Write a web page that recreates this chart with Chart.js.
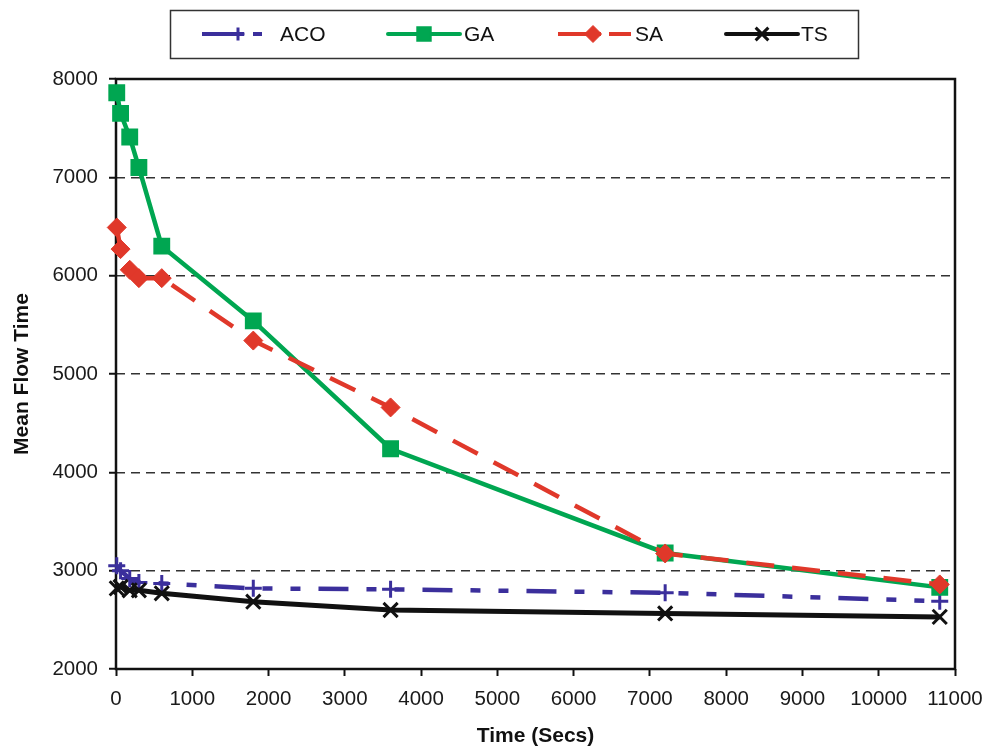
<!DOCTYPE html>
<html lang="en">
  <head>
    <meta charset="utf-8" />
    <title>Mean flow time vs time</title>
    <style>
      * {
        margin: 0;
        padding: 0;
      }
      body {
        background: #fff;
      }
      .chartBox {
        width: 999px;
        height: 747px;
      }
    </style>
  </head>
  <body>
    <div class="chartBox">
      <canvas id="myChart" width="999" height="747"></canvas>
    </div>

    <script src="https://cdn.jsdelivr.net/npm/chart.js@4.4.0/dist/chart.umd.min.js"></script>

    <script>
      // values
      const timeSecs = [10, 60, 180, 300, 600, 1800, 3600, 7200, 10800];
      const acoValues = [3050, 3000, 2920, 2880, 2870, 2820, 2810, 2775, 2690];
      const gaValues = [7860, 7650, 7410, 7100, 6300, 5540, 4240, 3180, 2830];
      const saValues = [6490, 6270, 6060, 5975, 5975, 5340, 4660, 3175, 2860];
      const tsValues = [2820, 2835, 2800, 2800, 2770, 2685, 2600, 2565, 2530];
      const seriesNames = ["ACO", "GA", "SA", "TS"];
      const yTicks = [2000, 3000, 4000, 5000, 6000, 7000, 8000];
      const xTicks = [0, 1000, 2000, 3000, 4000, 5000, 6000, 7000, 8000, 9000, 10000, 11000];

      const FONT = "'Liberation Sans', Arial, Helvetica, sans-serif";
      const toPoints = (vals) => vals.map((v, i) => ({ x: timeSecs[i], y: v }));

      const data = {
        datasets: [
          {
            label: seriesNames[0],
            data: toPoints(acoValues),
            borderColor: "#3b2f9c",
            backgroundColor: "#3b2f9c",
            borderWidth: 4.5,
            borderDash: [30, 18, 10, 18, 10, 18],
            pointStyle: "cross",
            pointRadius: 8.5,
            pointBorderWidth: 3,
            pointBackgroundColor: "#3b2f9c",
            pointBorderColor: "#3b2f9c",
            clip: false,
            order: 3,
          },
          {
            label: seriesNames[1],
            data: toPoints(gaValues),
            borderColor: "#00a651",
            backgroundColor: "#00a651",
            borderWidth: 4.5,
            pointStyle: "rect",
            pointRadius: 10.5,
            pointBorderWidth: 2,
            pointBackgroundColor: "#00a651",
            pointBorderColor: "#00a651",
            clip: false,
            order: 2,
          },
          {
            label: seriesNames[2],
            data: toPoints(saValues),
            borderColor: "#e0382a",
            backgroundColor: "#e0382a",
            borderWidth: 4.5,
            borderDash: [28, 18],
            pointStyle: "rectRot",
            pointRadius: 9.5,
            pointBorderWidth: 1,
            pointBackgroundColor: "#e0382a",
            pointBorderColor: "#e0382a",
            clip: false,
            order: 1,
          },
          {
            label: seriesNames[3],
            data: toPoints(tsValues),
            borderColor: "#111111",
            backgroundColor: "#111111",
            borderWidth: 5,
            pointStyle: "crossRot",
            pointRadius: 10,
            pointBorderWidth: 3,
            pointBackgroundColor: "#111111",
            pointBorderColor: "#111111",
            clip: false,
            order: 0,
          },
        ],
      };

      // legend slots inside the box at the top
      const legendLayout = [
        { x1: 202, x2: 262, mark: 238, textX: 280, dash: [42, 9, 10], cap: "butt" },
        { x1: 388, x2: 460, mark: 424, textX: 464, dash: [], cap: "round" },
        { x1: 558, x2: 631, mark: 593, textX: 635, dash: [43, 8, 30], cap: "butt" },
        { x1: 726, x2: 798, mark: 762, textX: 801, dash: [], cap: "round" },
      ];

      const boxLegend = {
        id: "boxLegend",
        afterDraw(chart) {
          const { ctx, data } = chart;
          const y = 34;
          ctx.save();
          ctx.strokeStyle = "#333";
          ctx.lineWidth = 1.5;
          ctx.strokeRect(170.5, 10.5, 688, 48);

          legendLayout.forEach((item, i) => {
            const ds = data.datasets[i];
            ctx.setLineDash(item.dash);
            ctx.lineCap = item.cap;
            ctx.strokeStyle = ds.borderColor;
            ctx.lineWidth = 4;
            ctx.beginPath();
            ctx.moveTo(item.x1, y);
            ctx.lineTo(item.x2, y);
            ctx.stroke();

            ctx.setLineDash([]);
            ctx.lineCap = "butt";
            ctx.fillStyle = ds.pointBackgroundColor;
            ctx.strokeStyle = ds.pointBorderColor;
            ctx.lineWidth = ds.pointBorderWidth;
            Chart.helpers.drawPoint(
              ctx,
              {
                pointStyle: ds.pointStyle,
                radius: ds.pointStyle === "cross" ? 6.5 : ds.pointRadius - 1,
                borderWidth: ds.pointBorderWidth,
                rotation: 0,
              },
              item.mark,
              y
            );

            ctx.fillStyle = "#111";
            ctx.font = "21px " + FONT;
            ctx.textAlign = "left";
            ctx.textBaseline = "middle";
            ctx.fillText(ds.label, item.textX, y + 1);
          });
          ctx.restore();
        },
      };

      const plotFrame = {
        id: "plotFrame",
        beforeDatasetsDraw(chart) {
          const { ctx, chartArea } = chart;
          ctx.save();
          ctx.strokeStyle = "#111";
          ctx.lineWidth = 2.5;
          ctx.strokeRect(
            chartArea.left,
            chartArea.top,
            chartArea.right - chartArea.left,
            chartArea.bottom - chartArea.top
          );
          ctx.restore();
        },
      };

      const config = {
        type: "line",
        data: data,
        options: {
          responsive: false,
          devicePixelRatio: 1,
          animation: false,
          events: [],
          layout: {
            padding: { top: 79, right: 44, left: 0, bottom: 0 },
          },
          plugins: {
            legend: { display: false },
            tooltip: { enabled: false },
          },
          scales: {
            x: {
              type: "linear",
              min: xTicks[0],
              max: xTicks[xTicks.length - 1],
              afterBuildTicks: (scale) => {
                scale.ticks = xTicks.map((v) => ({ value: v }));
              },
              afterFit: (scale) => {
                scale.height = 78;
              },
              grid: {
                drawOnChartArea: false,
                drawTicks: true,
                tickLength: 7,
                tickWidth: 2,
                tickColor: "#111",
              },
              border: { display: false },
              ticks: {
                color: "#1a1a1a",
                padding: 11,
                maxRotation: 0,
                autoSkip: false,
                font: { family: FONT, size: 20.5 },
                callback: (v) => String(v),
              },
              title: {
                display: true,
                text: "Time (Secs)",
                color: "#111",
                padding: { top: 0, bottom: 0 },
                font: { family: FONT, size: 21, weight: "bold", lineHeight: 1 },
              },
            },
            y: {
              min: yTicks[0],
              max: yTicks[yTicks.length - 1],
              afterBuildTicks: (scale) => {
                scale.ticks = yTicks.map((v) => ({ value: v }));
              },
              afterFit: (scale) => {
                scale.width = 116;
              },
              grid: {
                color: (c) =>
                  c.tick && (c.tick.value === yTicks[0] || c.tick.value === yTicks[yTicks.length - 1])
                    ? "rgba(0,0,0,0)"
                    : "#333",
                lineWidth: 1.5,
                drawTicks: true,
                tickLength: 7,
                tickWidth: 2,
                tickColor: "#111",
              },
              border: { display: false, dash: [9, 6] },
              ticks: {
                color: "#1a1a1a",
                padding: 11,
                font: { family: FONT, size: 20.5 },
                callback: (v) => String(v),
              },
              title: {
                display: true,
                text: "Mean Flow Time",
                color: "#111",
                padding: { top: 10, bottom: 0 },
                font: { family: FONT, size: 21, weight: "bold", lineHeight: 1.2 },
              },
            },
          },
        },
        plugins: [plotFrame, boxLegend],
      };

      const myChart = new Chart(document.getElementById("myChart"), config);
    </script>
  </body>
</html>
